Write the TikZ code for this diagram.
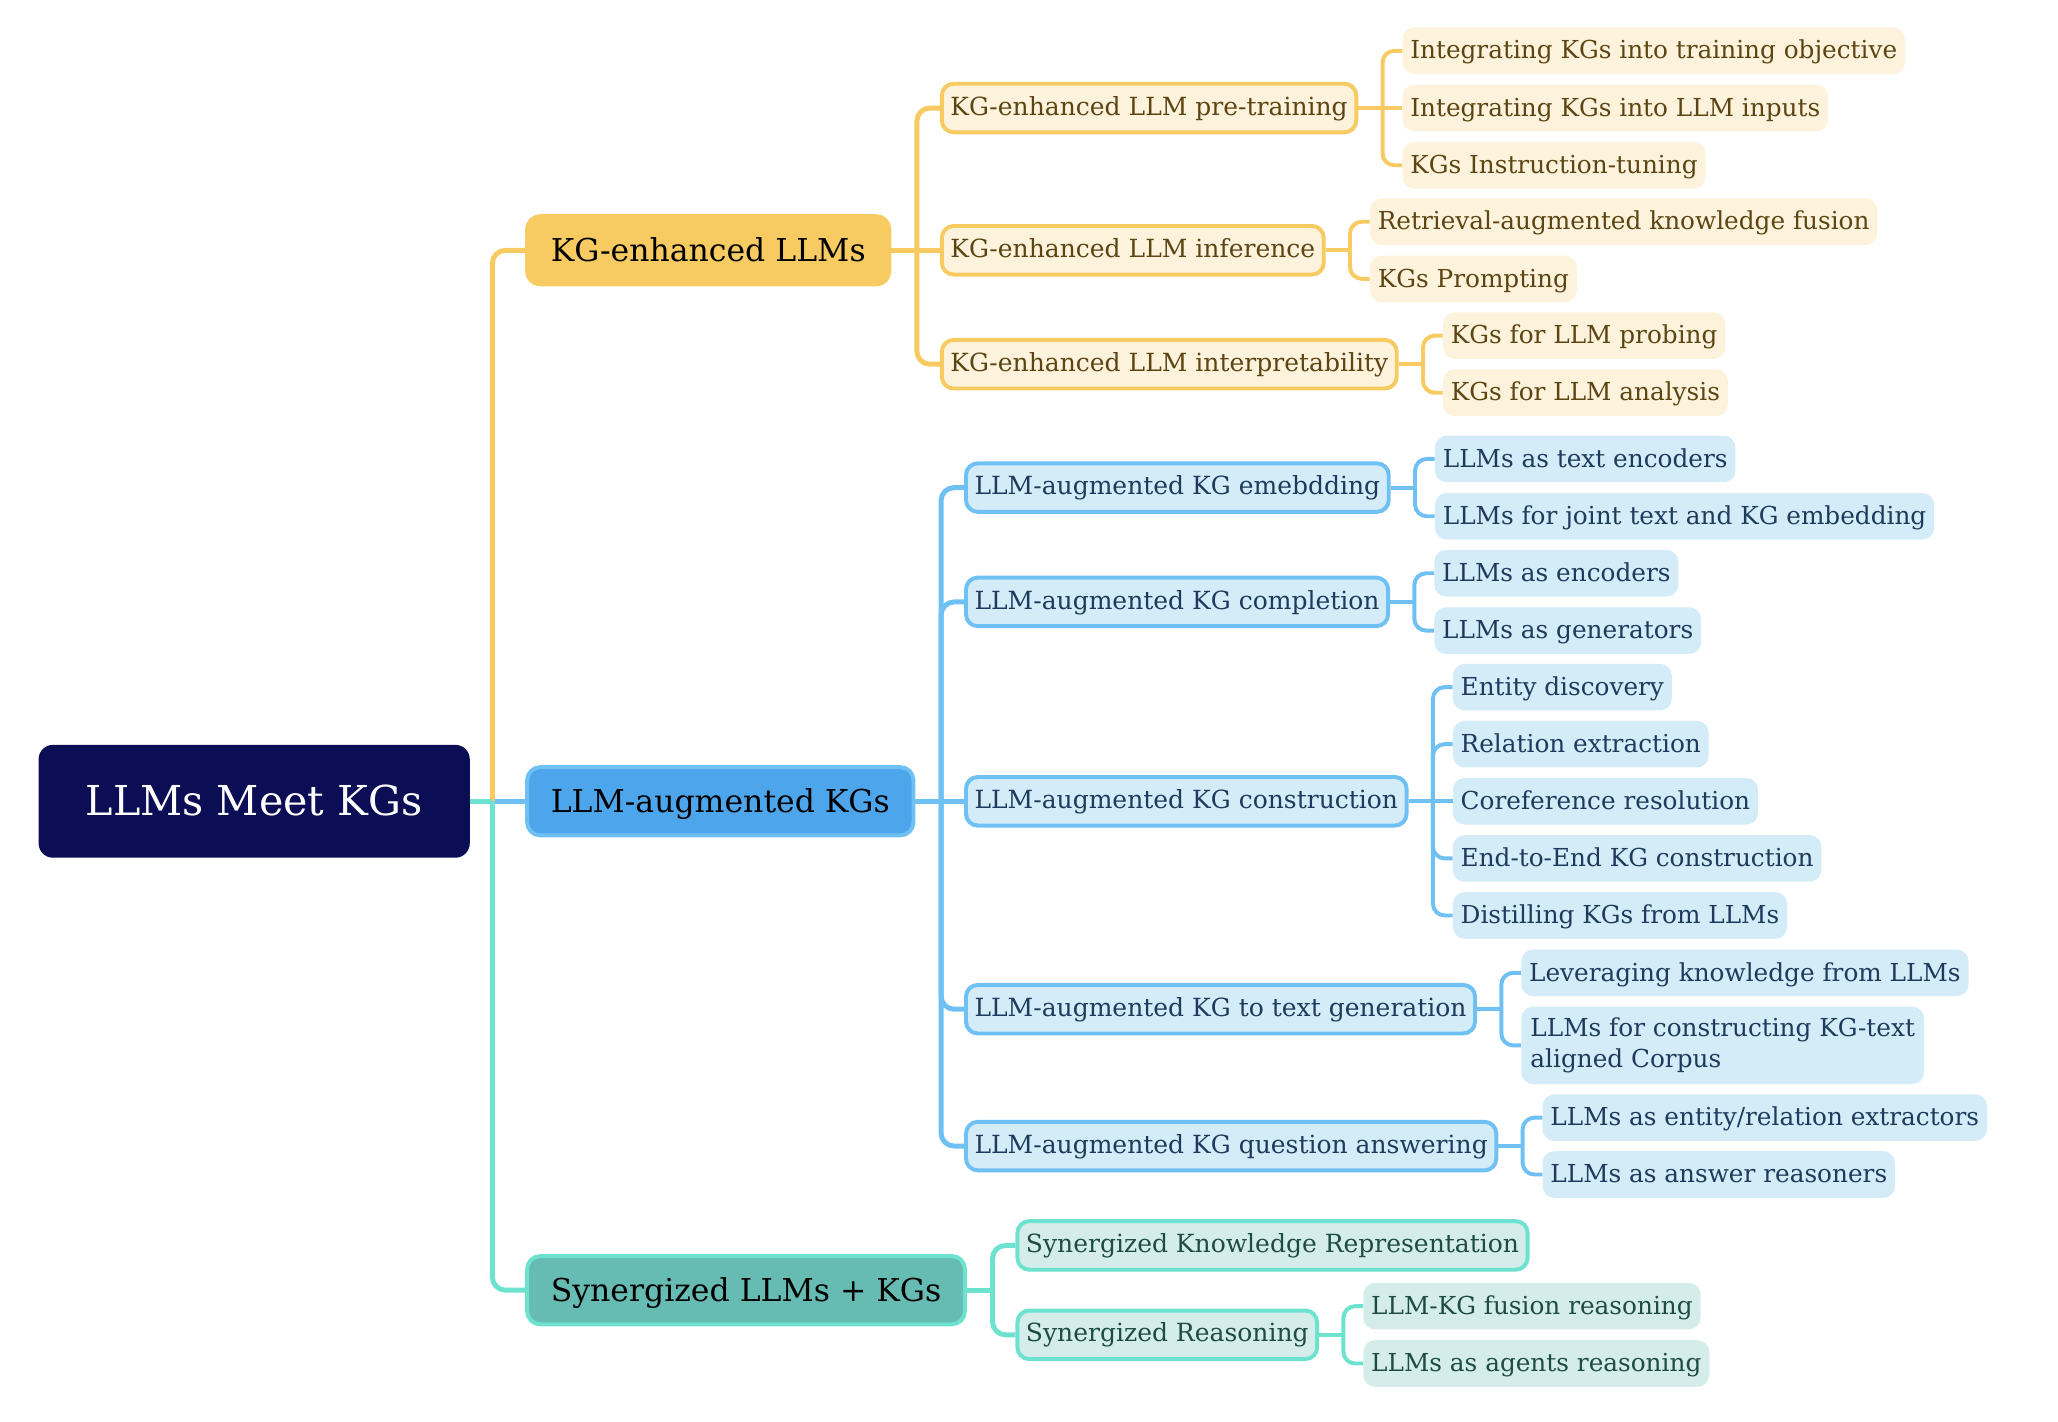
\documentclass[tikz,border=0pt]{standalone}
\usepackage{fontspec}
\setmainfont{DejaVu Serif}
\usetikzlibrary{positioning}

\definecolor{rootnavy}{HTML}{0B0D55}
\definecolor{kgyellow}{HTML}{F7CB62}
\definecolor{kglight}{HTML}{FDF3DC}
\definecolor{kgtext}{HTML}{5C4512}
\definecolor{llmblue}{HTML}{4DA6EC}
\definecolor{llmline}{HTML}{6FC1F3}
\definecolor{llmlight}{HTML}{D4EBF8}
\definecolor{llmtext}{HTML}{1E3A5C}
\definecolor{synteal}{HTML}{66BBB3}
\definecolor{synline}{HTML}{6DE2CF}
\definecolor{synlight}{HTML}{D4EDEA}
\definecolor{syntext}{HTML}{1E4B45}

\newcommand{\rootsize}{\fontsize{31.4}{38}\selectfont}
\newcommand{\mainsize}{\fontsize{24}{29}\selectfont}
\newcommand{\subsize}{\fontsize{19.05}{24}\selectfont}
\newcommand{\leafsize}{\fontsize{18.85}{24}\selectfont}

\tikzset{
    rootbox/.style={fill=rootnavy, text=white, rounded corners=11pt, minimum height=86pt, inner xsep=36pt, text height=24pt, text depth=2.5pt, font=\rootsize},
    mainbox/.style={rounded corners=10pt, line width=3pt, minimum height=52pt, inner xsep=18pt, text height=18.5pt, text depth=2pt, font=\mainsize},
    subbox/.style={rounded corners=9pt, line width=3pt, minimum height=37pt, inner xsep=6.5pt, text height=14.8pt, text depth=4pt, font=\subsize},
    leafbox/.style={rounded corners=9pt, minimum height=35.5pt, inner xsep=6pt, text height=15pt, text depth=2.5pt, font=\leafsize},
    kgmain/.style={mainbox, fill=kgyellow, draw=kgyellow},
    kgsub/.style={subbox, fill=kglight, draw=kgyellow, text=kgtext},
    kgleaf/.style={leafbox, fill=kglight, text=kgtext},
    llmmain/.style={mainbox, fill=llmblue, draw=llmline},
    llmsub/.style={subbox, fill=llmlight, draw=llmline, text=llmtext},
    llmleaf/.style={leafbox, fill=llmlight, text=llmtext},
    synmain/.style={mainbox, fill=synteal, draw=synline},
    synsub/.style={subbox, fill=synlight, draw=synline, text=syntext},
    synleaf/.style={leafbox, fill=synlight, text=syntext},
    trunk/.style={line width=3.8pt, rounded corners=10pt},
    twig/.style={line width=3pt, rounded corners=9pt}
}

\begin{document}
\begin{tikzpicture}[x=1pt, y=-1pt]
    \useasboundingbox (0,0) rectangle (1568,1083.4);

    % root and main branches
    \node[rootbox, anchor=west] (meet) at (29.2,610.5) {LLMs Meet KGs};
    \coordinate[right=17pt of meet] (meetbus);
    \node[kgmain, right=42pt of meet, yshift=419.8pt] (kgllm) {KG-enhanced LLMs};
    \node[llmmain, right=42pt of meet] (llmkg) {LLM-augmented KGs};
    \node[synmain, right=42pt of meet, yshift=-372.5pt] (synllm) {Synergized LLMs + KGs};

    % KG-enhanced LLMs
    \coordinate[right=19.5pt of kgllm] (kgbus);
    \node[kgsub, right=37pt of kgllm, yshift=108.4pt] (kgpre) {KG-enhanced LLM pre-training};
    \node[kgsub, right=37pt of kgllm] (kginf) {KG-enhanced LLM inference};
    \node[kgsub, right=37pt of kgllm, yshift=-86.8pt] (kginterp) {KG-enhanced LLM interpretability};
    \coordinate[right=18.5pt of kgpre] (prebus);
    \coordinate[right=18.5pt of kginf] (infbus);
    \coordinate[right=18.5pt of kginterp] (interpbus);
    \node[kgleaf, right=33.5pt of kgpre, yshift=43.6pt] (kgobj) {Integrating KGs into training objective};
    \node[kgleaf, right=33.5pt of kgpre] (kginput) {Integrating KGs into LLM inputs};
    \node[kgleaf, right=33.5pt of kgpre, yshift=-43.6pt] (kginstr) {KGs Instruction-tuning};
    \node[kgleaf, right=33.5pt of kginf, yshift=21.75pt] (kgfusion) {Retrieval-augmented knowledge fusion};
    \node[kgleaf, right=33.5pt of kginf, yshift=-21.75pt] (kgprompt) {KGs Prompting};
    \node[kgleaf, right=33.5pt of kginterp, yshift=21.75pt] (kgprobe) {KGs for LLM probing};
    \node[kgleaf, right=33.5pt of kginterp, yshift=-21.75pt] (kganalysis) {KGs for LLM analysis};

    % LLM-augmented KGs
    \coordinate[right=19.5pt of llmkg] (llmbus);
    \node[llmsub, right=37pt of llmkg, yshift=239pt] (llmemb) {LLM-augmented KG emebdding};
    \node[llmsub, right=37pt of llmkg, yshift=151.9pt] (llmcomp) {LLM-augmented KG completion};
    \node[llmsub, right=37pt of llmkg] (llmcons) {LLM-augmented KG construction};
    \node[llmsub, right=37pt of llmkg, yshift=-158.4pt] (llmgen) {LLM-augmented KG to text generation};
    \node[llmsub, right=37pt of llmkg, yshift=-262.7pt] (llmqa) {LLM-augmented KG question answering};
    \coordinate[right=18.5pt of llmemb] (embbus);
    \coordinate[right=18.5pt of llmcomp] (compbus);
    \coordinate[right=18.5pt of llmcons] (consbus);
    \coordinate[right=18.5pt of llmgen] (genbus);
    \coordinate[right=18.5pt of llmqa] (qabus);
    \node[llmleaf, right=33.5pt of llmemb, yshift=21.85pt] (txtenc) {LLMs as text encoders};
    \node[llmleaf, right=33.5pt of llmemb, yshift=-21.85pt] (jointemb) {LLMs for joint text and KG embedding};
    \node[llmleaf, right=33.5pt of llmcomp, yshift=21.85pt] (asenc) {LLMs as encoders};
    \node[llmleaf, right=33.5pt of llmcomp, yshift=-21.85pt] (asgen) {LLMs as generators};
    \node[llmleaf, right=33.5pt of llmcons, yshift=87pt] (entdisc) {Entity discovery};
    \node[llmleaf, right=33.5pt of llmcons, yshift=43.5pt] (relext) {Relation extraction};
    \node[llmleaf, right=33.5pt of llmcons] (coref) {Coreference resolution};
    \node[llmleaf, right=33.5pt of llmcons, yshift=-43.5pt] (endtoend) {End-to-End KG construction};
    \node[llmleaf, right=33.5pt of llmcons, yshift=-87pt] (distill) {Distilling KGs from LLMs};
    \node[llmleaf, right=33.5pt of llmgen, yshift=27.7pt] (leverage) {Leveraging knowledge from LLMs};
    \node[llmleaf, right=33.5pt of llmgen, yshift=-27.6pt, minimum height=59pt, inner xsep=7pt, text height=, text depth=, align=left] (corpus) {LLMs for constructing KG-text\\aligned Corpus};
    \node[llmleaf, right=33.5pt of llmqa, yshift=21.65pt] (extract) {LLMs as entity/relation extractors};
    \node[llmleaf, right=33.5pt of llmqa, yshift=-21.65pt] (answer) {LLMs as answer reasoners};

    % Synergized LLMs + KGs
    \coordinate[right=19.5pt of synllm] (synbus);
    \node[synsub, right=37pt of synllm, yshift=34.1pt] (synrep) {Synergized Knowledge Representation};
    \node[synsub, right=37pt of synllm, yshift=-34pt] (synreas) {Synergized Reasoning};
    \coordinate[right=18.5pt of synreas] (reasbus);
    \node[synleaf, right=33.5pt of synreas, yshift=21.85pt] (fusion) {LLM-KG fusion reasoning};
    \node[synleaf, right=33.5pt of synreas, yshift=-21.85pt] (agents) {LLMs as agents reasoning};

    % trunk
    \draw[trunk, llmline] (meet.east) -- (llmkg.west);
    \draw[trunk, kgyellow] (meetbus) |- (kgllm.west);
    \draw[trunk, synline] (meet.east) -- (meetbus);
    \draw[trunk, synline] (meetbus) |- (synllm.west);

    % KG-enhanced LLMs connectors
    \draw[trunk, kgyellow] (kgllm.east) -- (kginf.west);
    \draw[trunk, kgyellow] (kgbus) |- (kgpre.west);
    \draw[trunk, kgyellow] (kgbus) |- (kginterp.west);
    \draw[twig, kgyellow] (kgpre.east) -- (kginput.west);
    \draw[twig, kgyellow] (prebus) |- (kgobj.west);
    \draw[twig, kgyellow] (prebus) |- (kginstr.west);
    \draw[twig, kgyellow] (kginf.east) -- (infbus);
    \draw[twig, kgyellow] (infbus) |- (kgfusion.west);
    \draw[twig, kgyellow] (infbus) |- (kgprompt.west);
    \draw[twig, kgyellow] (kginterp.east) -- (interpbus);
    \draw[twig, kgyellow] (interpbus) |- (kgprobe.west);
    \draw[twig, kgyellow] (interpbus) |- (kganalysis.west);

    % LLM-augmented KGs connectors
    \draw[trunk, llmline] (llmkg.east) -- (llmcons.west);
    \draw[trunk, llmline] (llmbus) |- (llmemb.west);
    \draw[trunk, llmline] (llmbus) |- (llmcomp.west);
    \draw[trunk, llmline] (llmbus) |- (llmgen.west);
    \draw[trunk, llmline] (llmbus) |- (llmqa.west);
    \draw[twig, llmline] (llmemb.east) -- (embbus);
    \draw[twig, llmline] (embbus) |- (txtenc.west);
    \draw[twig, llmline] (embbus) |- (jointemb.west);
    \draw[twig, llmline] (llmcomp.east) -- (compbus);
    \draw[twig, llmline] (compbus) |- (asenc.west);
    \draw[twig, llmline] (compbus) |- (asgen.west);
    \draw[twig, llmline] (llmcons.east) -- (coref.west);
    \draw[twig, llmline] (consbus) |- (entdisc.west);
    \draw[twig, llmline] (consbus) |- (relext.west);
    \draw[twig, llmline] (consbus) |- (endtoend.west);
    \draw[twig, llmline] (consbus) |- (distill.west);
    \draw[twig, llmline] (llmgen.east) -- (genbus);
    \draw[twig, llmline] (genbus) |- (leverage.west);
    \draw[twig, llmline] (genbus) |- (corpus.west);
    \draw[twig, llmline] (llmqa.east) -- (qabus);
    \draw[twig, llmline] (qabus) |- (extract.west);
    \draw[twig, llmline] (qabus) |- (answer.west);

    % Synergized LLMs + KGs connectors
    \draw[trunk, synline] (synllm.east) -- (synbus);
    \draw[trunk, synline] (synbus) |- (synrep.west);
    \draw[trunk, synline] (synbus) |- (synreas.west);
    \draw[twig, synline] (synreas.east) -- (reasbus);
    \draw[twig, synline] (reasbus) |- (fusion.west);
    \draw[twig, synline] (reasbus) |- (agents.west);
\end{tikzpicture}
\end{document}
